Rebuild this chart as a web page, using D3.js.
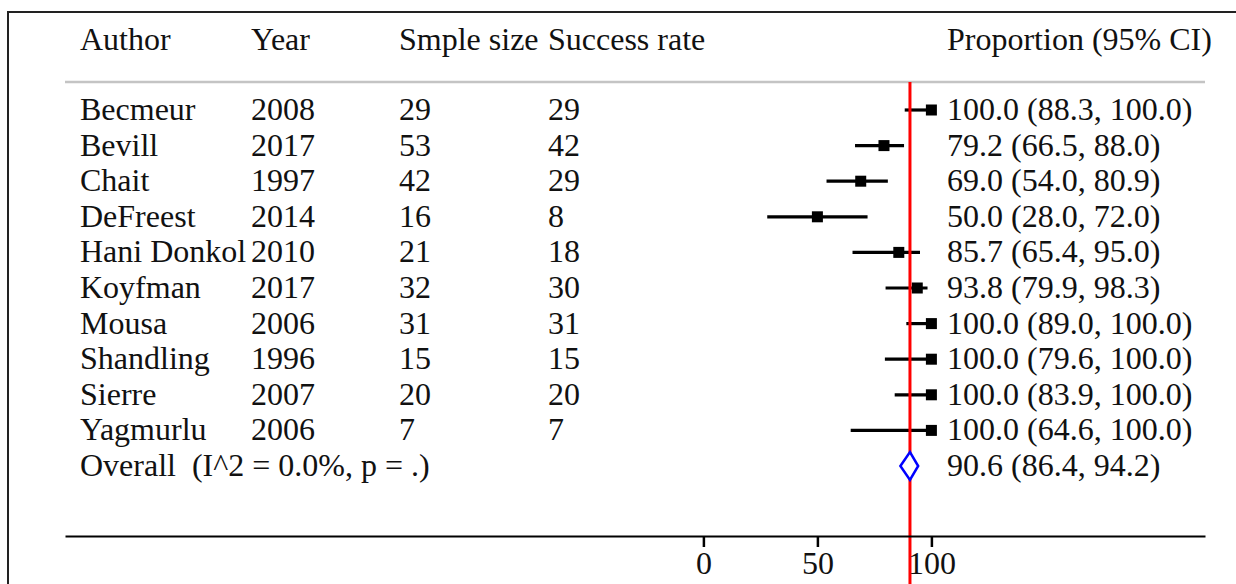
<!DOCTYPE html>
<html>
<head>
<meta charset="utf-8">
<script src="https://cdn.jsdelivr.net/npm/d3@7"></script>
<style>
  html, body { margin: 0; padding: 0; background: #fff; }
  svg text { font-family: 'Liberation Serif', serif; font-size: 32px; fill: #111; white-space: pre; }
</style>
</head>
<body>
<svg width="1236" height="584"></svg>
<script>
const authors = ['Becmeur', 'Bevill', 'Chait', 'DeFreest', 'Hani Donkol', 'Koyfman', 'Mousa', 'Shandling', 'Sierre', 'Yagmurlu']
const years = [2008, 2017, 1997, 2014, 2010, 2017, 2006, 1996, 2007, 2006]
const sampleSizes = [29, 53, 42, 16, 21, 32, 31, 15, 20, 7]
const successes = [29, 42, 29, 8, 18, 30, 31, 15, 20, 7]
const props = [100.0, 79.2, 69.0, 50.0, 85.7, 93.8, 100.0, 100.0, 100.0, 100.0]
const lower = [88.3, 66.5, 54.0, 28.0, 65.4, 79.9, 89.0, 79.6, 83.9, 64.6]
const upper = [100.0, 88.0, 80.9, 72.0, 95.0, 98.3, 100.0, 100.0, 100.0, 100.0]

const overallLabel = 'Overall  (I^2 = 0.0%, p = .)'
const overall = { est: 90.6, lo: 86.4, hi: 94.2 }

const headers = ['Author', 'Year', 'Smple size', 'Success rate', 'Proportion (95% CI)']
const axisTicks = [0, 50, 100]

const svg = d3.select('svg')

// outer frame (runs off the right and bottom edges)
svg.append('rect')
  .attr('x', 8).attr('y', 12)
  .attr('width', 1400).attr('height', 800)
  .attr('fill', 'none').attr('stroke', '#222').attr('stroke-width', 2)

const x = d3.scaleLinear().domain([-280, 220]).range([65, 1205])
const y = d3.scaleLinear().domain([0, 10]).range([110, 466])

const colX = [80, 251, 399, 548, 947]

// header
svg.selectAll('.hdr')
  .data(headers)
  .enter()
  .append('text')
  .attr('class', 'hdr')
  .attr('x', (d, i) => colX[i])
  .attr('y', 50)
  .text((d) => d)

svg.append('line')
  .attr('x1', 65).attr('x2', 1205)
  .attr('y1', 82).attr('y2', 82)
  .attr('stroke', '#c4c4c4').attr('stroke-width', 2.5)

// study rows
const rows = svg.selectAll('.row')
  .data(authors)
  .enter()
  .append('g')
  .attr('class', 'row')
  .attr('transform', (d, i) => `translate(0, ${y(i)})`)

rows.append('text').attr('x', colX[0]).attr('y', 10).text((d) => d)
rows.append('text').attr('x', colX[1]).attr('y', 10).text((d, i) => years[i])
rows.append('text').attr('x', colX[2]).attr('y', 10).text((d, i) => sampleSizes[i])
rows.append('text').attr('x', colX[3]).attr('y', 10).text((d, i) => successes[i])
rows.append('text').attr('x', colX[4]).attr('y', 10)
  .text((d, i) => `${props[i].toFixed(1)} (${lower[i].toFixed(1)}, ${upper[i].toFixed(1)})`)

// red reference line at overall estimate
svg.append('line')
  .attr('x1', x(overall.est)).attr('x2', x(overall.est))
  .attr('y1', 82).attr('y2', 584)
  .attr('stroke', '#ff0000').attr('stroke-width', 3)

rows.append('line')
  .attr('x1', (d, i) => x(lower[i]))
  .attr('x2', (d, i) => x(upper[i]))
  .attr('y1', 0).attr('y2', 0)
  .attr('stroke', '#000').attr('stroke-width', 3.2)

rows.append('rect')
  .attr('x', (d, i) => x(props[i]) - 5.5)
  .attr('y', -5.5)
  .attr('width', 11).attr('height', 11)
  .attr('fill', '#000')

// overall row
const oy = y(10)
svg.append('text').attr('x', colX[0]).attr('y', oy + 10).text(overallLabel)
svg.append('text').attr('x', colX[4]).attr('y', oy + 10)
  .text(`${overall.est.toFixed(1)} (${overall.lo.toFixed(1)}, ${overall.hi.toFixed(1)})`)

svg.append('path')
  .attr('d', `M${x(overall.lo)},${oy} L${x(overall.est)},${oy - 14} L${x(overall.hi)},${oy} L${x(overall.est)},${oy + 14} Z`)
  .attr('fill', '#fff').attr('stroke', '#0000ff').attr('stroke-width', 2.5)

// x axis
const xAxis = d3.axisBottom(x).tickValues(axisTicks).tickSizeInner(11).tickSizeOuter(0).tickPadding(4)
const ax = svg.append('g')
  .attr('transform', 'translate(0, 536)')
  .call(xAxis)
ax.select('.domain').attr('stroke', '#000').attr('stroke-width', 2)
ax.selectAll('.tick line').attr('stroke', '#000').attr('stroke-width', 2.5)
ax.selectAll('.tick text')
  .attr('font-family', 'Liberation Serif, serif')
  .attr('font-size', 28)
  .attr('fill', '#111')
</script>
</body>
</html>
